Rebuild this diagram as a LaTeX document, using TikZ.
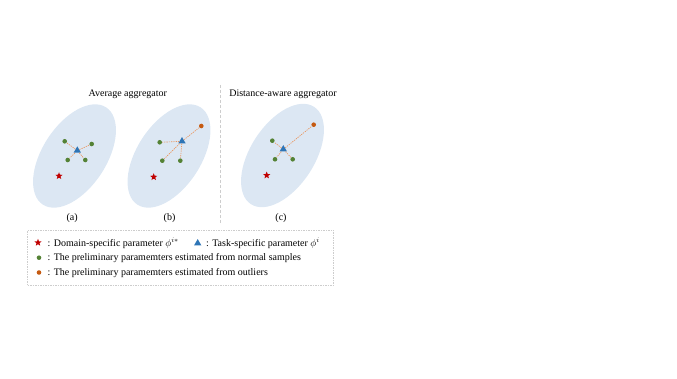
\documentclass[tikz,border=0pt]{standalone}
\usepackage{fontspec}
\setmainfont{Liberation Serif}
\usetikzlibrary{shapes.geometric, positioning}
\definecolor{cRegion}{RGB}{220, 231, 243}
\definecolor{cRed}{RGB}{192, 0, 0}
\definecolor{cBlue}{RGB}{46, 117, 182}
\definecolor{cGreen}{RGB}{84, 130, 53}
\definecolor{cOrange}{RGB}{197, 90, 17}
\definecolor{cLink}{RGB}{234, 150, 95}
\definecolor{cFrame}{RGB}{205, 205, 205}

\begin{document}
\begin{tikzpicture}[x=1pt, y=-1pt, font=\fontsize{10}{12}\selectfont,
    region/.style={ellipse, fill=cRegion, draw=none, rotate=57, minimum width=116pt, minimum height=64pt},
    normaldot/.style={circle, fill=cGreen, inner sep=0pt, minimum size=4.6pt},
    outlierdot/.style={circle, fill=cOrange, inner sep=0pt, minimum size=4.6pt},
    taskmark/.style={regular polygon, regular polygon sides=3, fill=cBlue, inner sep=0pt, minimum size=8.5pt},
    domainstar/.style={star, star points=5, star point ratio=2.3, fill=cRed, inner sep=0pt, minimum size=7.5pt},
    link/.style={cLink, line width=0.65pt, dash pattern=on 1.3pt off 1pt},
    separator/.style={cFrame, line width=0.8pt, dash pattern=on 3pt off 2pt},
    legendbox/.style={draw=cFrame, line width=0.5pt, dash pattern=on 1.5pt off 1pt, minimum width=306pt, minimum height=55pt},
    subcap/.style={anchor=base, inner sep=0pt},
    legendtext/.style={anchor=base west, inner sep=0pt}
]
\useasboundingbox (0,0) rectangle (677,379);

% Titles
\node[subcap] (titleAvg) at (127.8, 96.3) {Average aggregator};
\node[subcap] (titleDist) at (283, 96.3) {Distance-aware aggregator};

% Separator between the two aggregators
\coordinate (sepTop) at (220, 85);
\coordinate (sepBot) at (220, 223);
\draw[separator] (sepTop) -- (sepBot);

% Regions
\node[region] (regA) at (74.5, 156) {};
\node[region] (regB) at (169, 156) {};
\node[region] (regC) at (282.5, 155.5) {};

% (a) average aggregator, normal samples only
\node[domainstar] (starA) at (59, 176) {};
\node[taskmark] (taskA) at (77.3, 150.6) {};
\node[normaldot] (na1) at (64.7, 141.3) {};
\node[normaldot] (na2) at (91.7, 144) {};
\node[normaldot] (na3) at (67.7, 160) {};
\node[normaldot] (na4) at (85.3, 160) {};
\draw[link] (taskA) -- (na1);
\draw[link] (taskA) -- (na2);
\draw[link] (taskA) -- (na3);
\draw[link] (taskA) -- (na4);

% (b) average aggregator, with an outlier
\node[domainstar] (starB) at (153.7, 177) {};
\node[taskmark] (taskB) at (182, 141.3) {};
\node[normaldot] (nb1) at (159.7, 142.3) {};
\node[normaldot] (nb2) at (162.3, 160.7) {};
\node[normaldot] (nb3) at (180.3, 160.7) {};
\node[outlierdot] (ob) at (201.3, 126) {};
\draw[link] (taskB) -- (nb1);
\draw[link] (taskB) -- (nb2);
\draw[link] (taskB) -- (nb3);
\draw[link] (taskB) -- (ob);

% (c) distance-aware aggregator
\node[domainstar] (starC) at (266.7, 175.3) {};
\node[taskmark] (taskC) at (283.3, 149.3) {};
\node[normaldot] (nc1) at (272.3, 140.7) {};
\node[normaldot] (nc2) at (275, 159.3) {};
\node[normaldot] (nc3) at (292.7, 159.3) {};
\node[outlierdot] (oc) at (313.7, 124.7) {};
\draw[link] (taskC) -- (nc1);
\draw[link] (taskC) -- (nc2);
\draw[link] (taskC) -- (nc3);
\draw[link] (taskC) -- (oc);

% Sub-captions
\node[subcap] (capA) at (72.2, 220.4) {(a)};
\node[subcap] (capB) at (169.5, 220.4) {(b)};
\node[subcap] (capC) at (281, 220.4) {(c)};

% Legend
\node[legendbox] (legend) at (180.5, 258) {};
\node[domainstar] (legStar) at (38, 242.6) {};
\node[legendtext] (legStarText) at (47.5, 246.4) {: Domain-specific parameter $\phi^{i*}$};
\node[taskmark] (legTask) at (197.7, 243.3) {};
\node[legendtext] (legTaskText) at (206, 246.4) {: Task-specific parameter $\phi^{i}$};
\node[normaldot] (legNormal) at (39, 257.7) {};
\node[legendtext] (legNormalText) at (47.5, 261) {: The preliminary paramemters estimated from normal samples};
\node[outlierdot] (legOutlier) at (39, 272.5) {};
\node[legendtext] (legOutlierText) at (47.5, 275.8) {: The preliminary paramemters estimated from outliers};

\end{tikzpicture}
\end{document}
